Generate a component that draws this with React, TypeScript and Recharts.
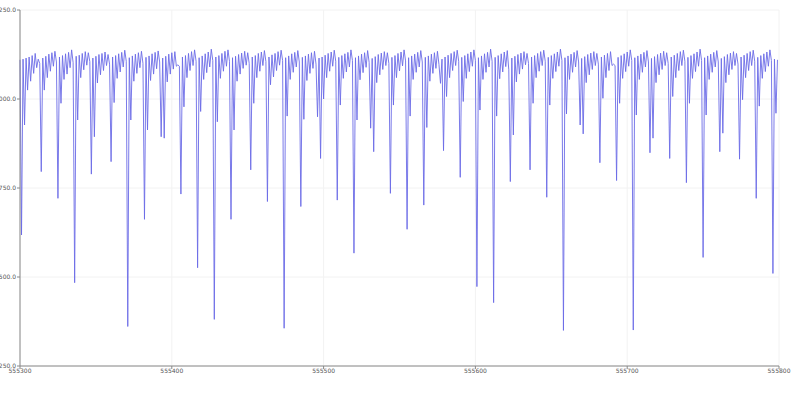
import React from 'react';
import { LineChart, Line, CartesianGrid, XAxis, YAxis } from 'recharts';

const X_START = 555300;
const xTicks = [555300, 555400, 555500, 555600, 555700, 555800];
const yTicks = [250, 500, 750, 1000, 1250];

// one reading per x step, grouped roughly by cycle (deep dip first)
const signal: number[] = [
  1110,
  618, 1112, 927, 1115, 1025, 1118, 1050, 1122, 1072, 1128, 1088, 1112, 1100,
  796, 1115, 1025, 1120, 1060, 1126, 1078, 1130, 1092, 1134, 1104,
  721, 1118, 988, 1122, 1055, 1127, 1070, 1131, 1088, 1138, 1102,
  484, 1120, 941, 1123, 1060, 1128, 1082, 1133, 1095, 1130, 1105,
  789, 1115, 894, 1120, 1045, 1125, 1068, 1128, 1080, 1132, 1094, 1125, 1098,
  824, 1118, 990, 1122, 1058, 1127, 1076, 1131, 1090, 1137, 1106,
  361, 1116, 941, 1121, 1050, 1126, 1072, 1130, 1088, 1134, 1100,
  662, 1117, 913, 1121, 1052, 1127, 1070, 1131, 1085, 1135, 1104,
  894, 1115, 890, 1120, 1048, 1126, 1070, 1130, 1084, 1133, 1092, 1096, 1092,
  733, 1118, 978, 1122, 1060, 1128, 1080, 1133, 1094, 1138, 1106,
  526, 1116, 965, 1121, 1055, 1127, 1074, 1132, 1090, 1140, 1108,
  381, 1118, 936, 1122, 1058, 1128, 1078, 1134, 1092, 1138, 1106,
  662, 1116, 913, 1120, 1050, 1125, 1070, 1129, 1086, 1134, 1095, 1130, 1100,
  801, 1118, 988, 1122, 1060, 1128, 1078, 1132, 1094, 1136, 1105,
  712, 1118, 1040, 1124, 1062, 1128, 1080, 1133, 1095, 1137, 1108,
  356, 1116, 952, 1121, 1055, 1127, 1075, 1131, 1090, 1136, 1104,
  698, 1117, 943, 1121, 1052, 1126, 1072, 1130, 1086, 1134, 1098, 950, 1115,
  833, 1118, 1000, 1123, 1060, 1128, 1078, 1132, 1092, 1137, 1106,
  716, 1117, 983, 1122, 1058, 1127, 1076, 1131, 1090, 1138, 1108,
  567, 1116, 941, 1121, 1054, 1126, 1074, 1130, 1089, 1136, 1103,
  918, 1114, 852, 1119, 1046, 1125, 1068, 1129, 1083, 1133, 1094, 1130, 1100,
  735, 1117, 983, 1122, 1060, 1128, 1079, 1132, 1093, 1138, 1107,
  634, 1116, 952, 1121, 1055, 1126, 1075, 1131, 1090, 1136, 1104,
  702, 1117, 920, 1121, 1050, 1126, 1072, 1130, 1086, 1134, 1097, 1044, 1112,
  855, 1118, 1007, 1123, 1060, 1128, 1080, 1133, 1094, 1137, 1106,
  780, 1117, 993, 1122, 1058, 1127, 1077, 1132, 1092, 1138, 1108,
  473, 1116, 969, 1121, 1055, 1127, 1075, 1131, 1090, 1140, 1106,
  428, 1117, 952, 1122, 1057, 1127, 1076, 1132, 1091, 1136, 1082,
  768, 1115, 899, 1120, 1048, 1125, 1070, 1129, 1084, 1133, 1096, 1128, 1100,
  801, 1118, 988, 1122, 1060, 1128, 1078, 1133, 1094, 1137, 1106,
  724, 1117, 983, 1122, 1058, 1127, 1077, 1132, 1092, 1140, 1108,
  350, 1116, 958, 1121, 1055, 1126, 1075, 1131, 1090, 1136, 1104,
  927, 1114, 902, 1119, 1046, 1125, 1068, 1129, 1083, 1133, 1094, 1128, 1098,
  821, 1118, 1002, 1123, 1060, 1128, 1080, 1133, 1094, 1098, 1094,
  771, 1117, 988, 1122, 1058, 1127, 1077, 1132, 1092, 1138, 1108,
  351, 1116, 955, 1121, 1055, 1126, 1075, 1131, 1090, 1136, 1104,
  849, 1114, 890, 1119, 1046, 1125, 1068, 1129, 1083, 1134, 1094, 1130, 1100,
  833, 1118, 1007, 1123, 1060, 1128, 1080, 1133, 1094, 1137, 1106,
  765, 1117, 988, 1122, 1058, 1127, 1077, 1132, 1092, 1140, 1108,
  555, 1116, 955, 1121, 1055, 1126, 1075, 1131, 1090, 1136, 1104,
  852, 1114, 904, 1119, 1046, 1125, 1068, 1129, 1083, 1133, 1094, 1128, 1098,
  831, 1118, 998, 1123, 1060, 1128, 1080, 1133, 1094, 1137, 1106,
  721, 1117, 980, 1122, 1058, 1127, 1077, 1132, 1092, 1138, 1108,
  510, 1112, 960, 1110,
];

const chartData = signal.map((v, i) => ({ x: X_START + i, value: v }));

const tickStyle = { fontSize: 6, fill: '#555', fontFamily: 'DejaVu Sans' };

const App = () => {
  return (
    <div style={{ position: 'absolute', left: 0, top: 0 }}>
      <LineChart width={800} height={412} data={chartData} margin={{ top: 10, right: 21, bottom: 0, left: 0 }}>
        <CartesianGrid stroke="#f2f2f2" strokeWidth={1} />
        <XAxis
          dataKey="x"
          type="number"
          domain={[555300, 555800]}
          ticks={xTicks}
          height={46}
          tick={tickStyle}
          tickSize={3}
          tickMargin={0}
          stroke="#888"
        />
        <YAxis
          type="number"
          domain={[250, 1250]}
          ticks={yTicks}
          width={20}
          tick={tickStyle}
          tickSize={3}
          tickMargin={1}
          stroke="#888"
          tickFormatter={(v: number) => v.toFixed(1)}
        />
        <Line type="linear" dataKey="value" stroke="#6b6be6" strokeWidth={0.9} dot={false} isAnimationActive={false} />
      </LineChart>
    </div>
  );
};

export default App;
